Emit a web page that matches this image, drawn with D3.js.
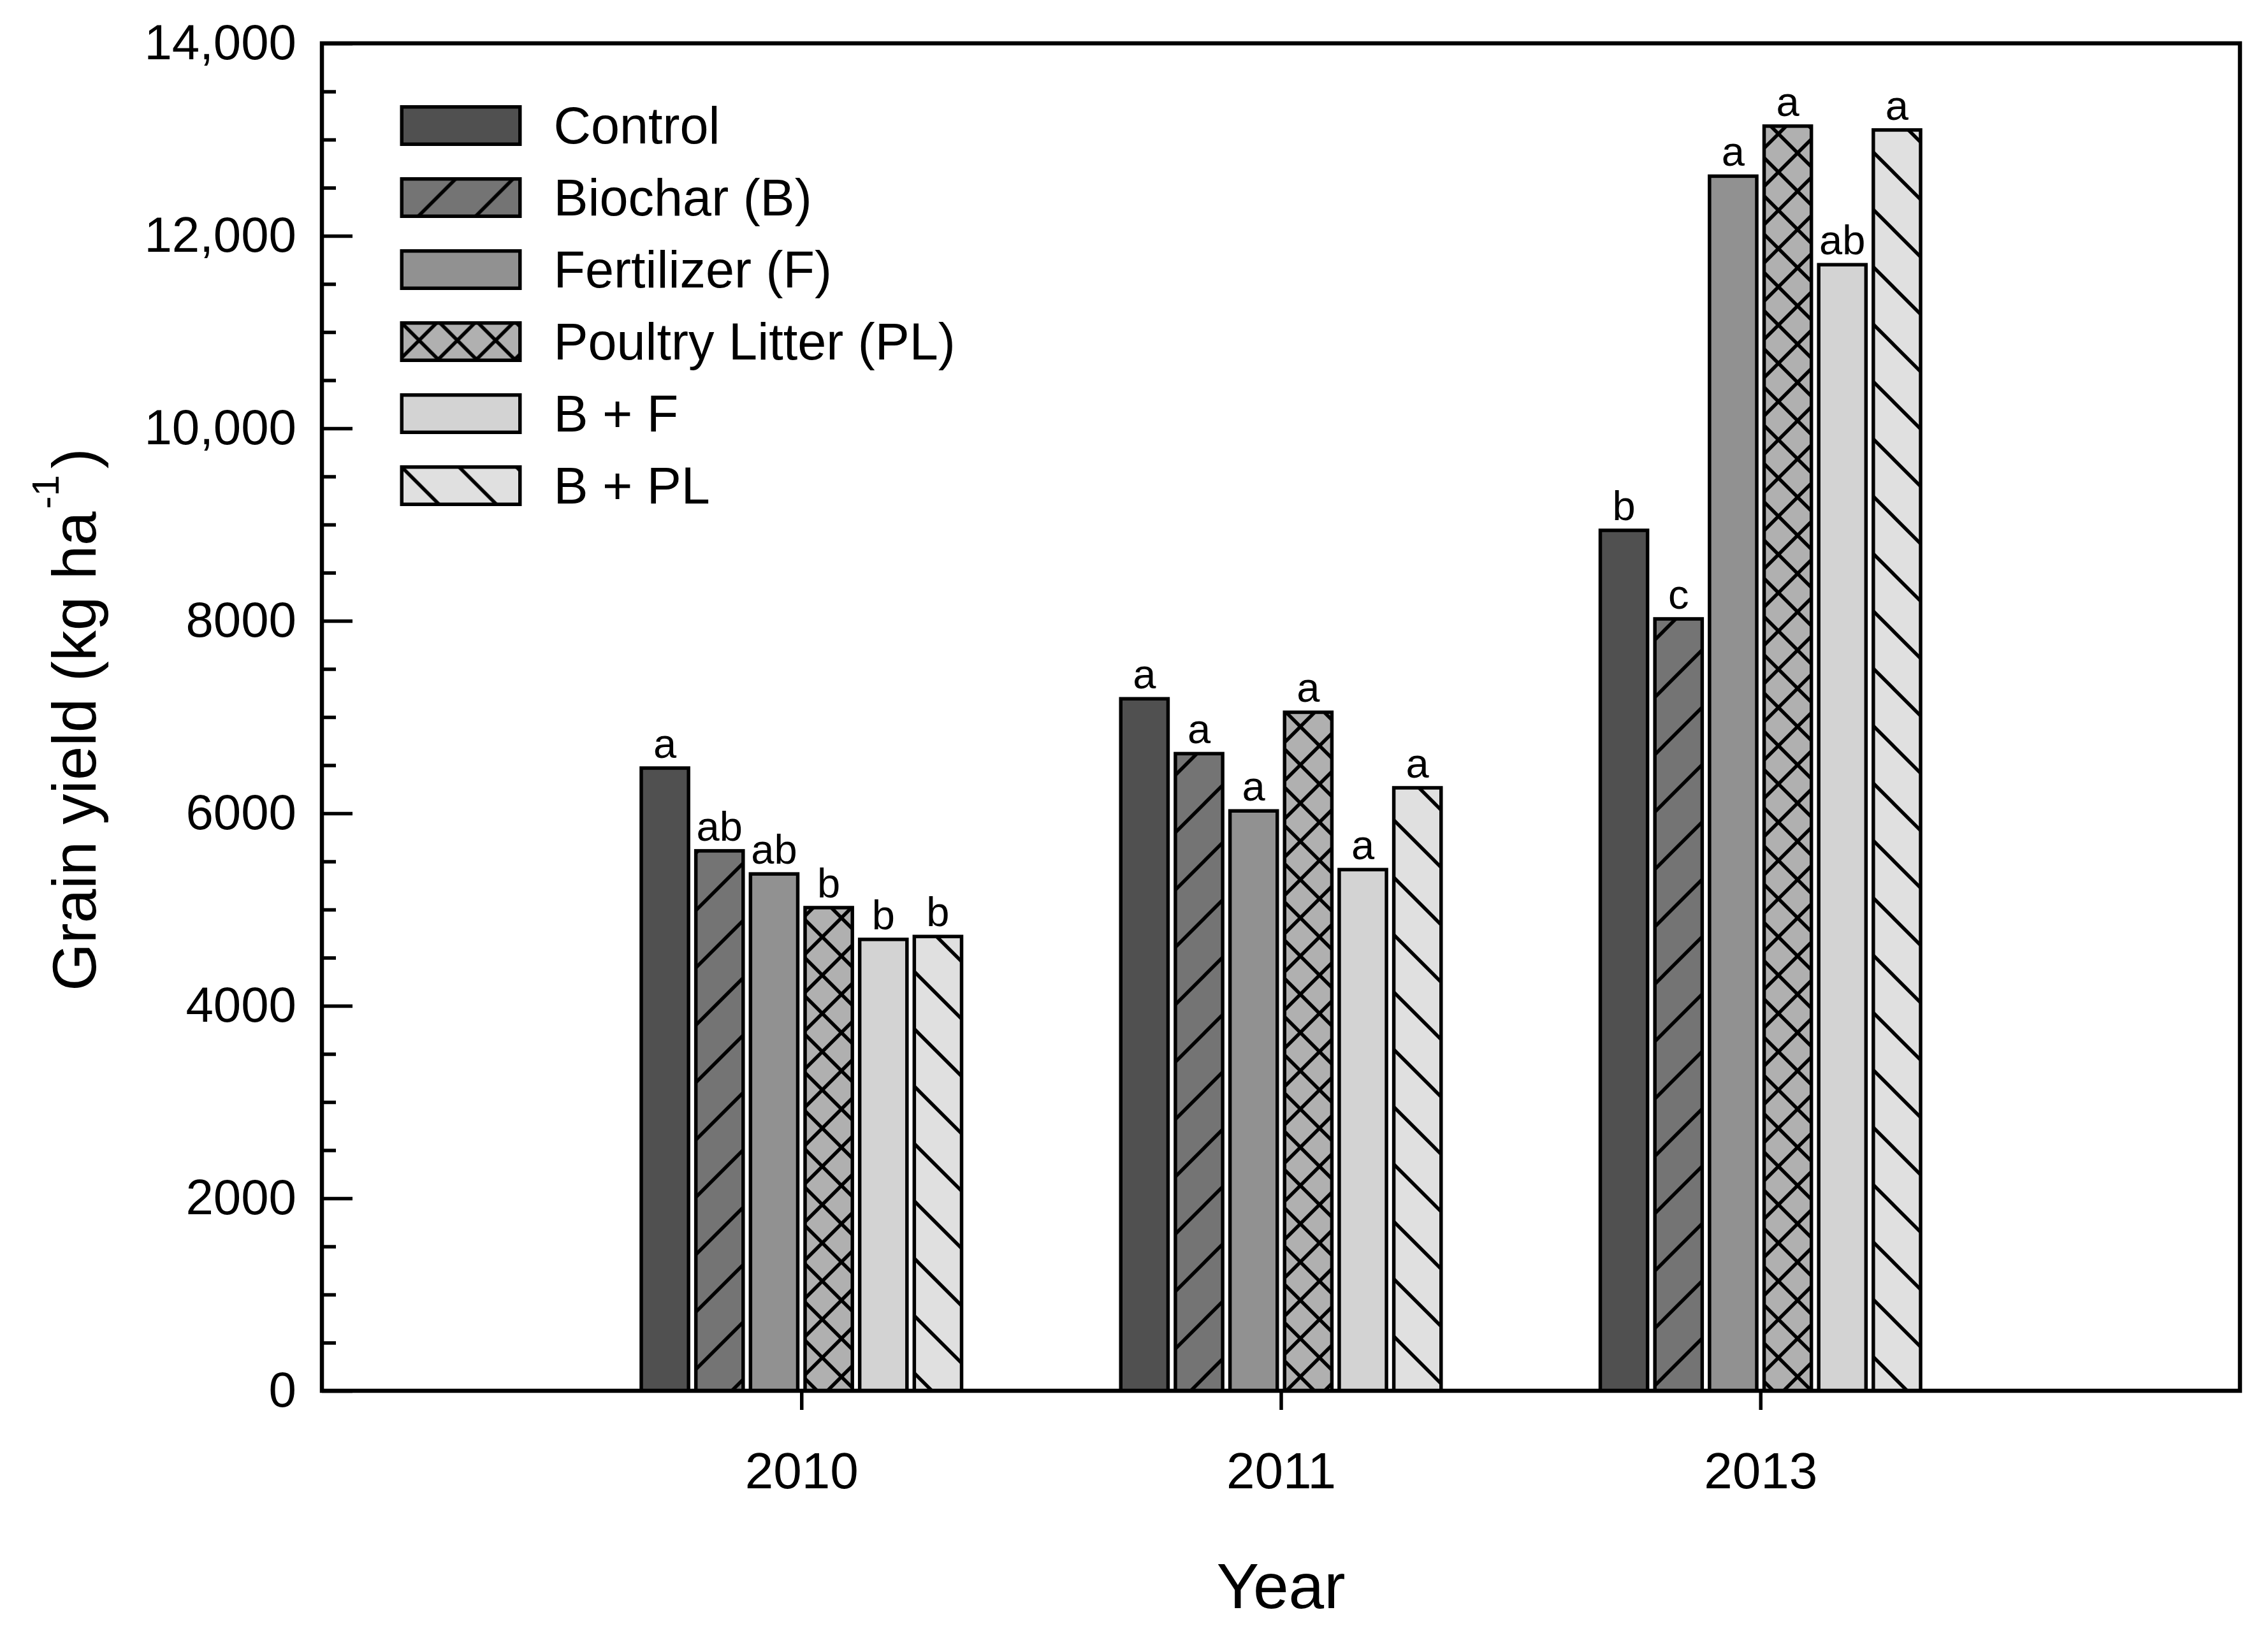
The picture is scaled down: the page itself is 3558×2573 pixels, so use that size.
<!DOCTYPE html>
<html>
<head>
<meta charset="utf-8">
<script src="https://cdn.jsdelivr.net/npm/d3@7"></script>
<style>
  body { margin: 0; background: #fff; }
  text { font-family: "Liberation Sans", Arial, sans-serif; fill: #000; }
</style>
</head>
<body>
<div id="chart"></div>
<script>
// values (kg/ha)
const years = ["2010", "2011", "2013"];
const treatments = ["Control", "Biochar (B)", "Fertilizer (F)", "Poultry Litter (PL)", "B + F", "B + PL"];
const yield2010 = [6470, 5610, 5370, 5020, 4690, 4720];
const yield2011 = [7190, 6620, 6025, 7050, 5415, 6265];
const yield2013 = [8940, 8020, 12620, 13140, 11700, 13100];
const letters2010 = ["a", "ab", "ab", "b", "b", "b"];
const letters2011 = ["a", "a", "a", "a", "a", "a"];
const letters2013 = ["b", "c", "a", "a", "ab", "a"];
const yTicks = [0, 2000, 4000, 6000, 8000, 10000, 12000, 14000];

const fills = ["#505050", "#747474", "#919191", "#b0b0b0", "#d3d3d3", "#e0e0e0"];
const hatch = ["none", "fwd", "none", "cross", "none", "back"];

const yields = [yield2010, yield2011, yield2013];
const letters = [letters2010, letters2011, letters2013];

const data = [];
years.forEach((yr, i) => {
    treatments.forEach((t, j) => {
        data.push({year: yr, treatment: t, value: yields[i][j], letter: letters[i][j], k: j});
    });
});

const W = 3558, H = 2573;
const plotL = 505, plotR = 3514, plotT = 68, plotB = 2182;
const sw = 5.5; // outline width

const svg = d3.select("#chart").append("svg")
    .attr("width", W)
    .attr("height", H)
    .attr("viewBox", [0, 0, W, H]);

// hatch patterns, one per treatment (background colour + black lines)
const defs = svg.append("defs");
treatments.forEach((t, j) => {
    const kind = hatch[j];
    const size = kind == "cross" ? 60 : 90;
    const p = defs.append("pattern")
        .attr("id", "pat" + j)
        .attr("patternUnits", "userSpaceOnUse")
        .attr("width", size)
        .attr("height", size);
    p.append("rect").attr("width", size).attr("height", size).attr("fill", fills[j]);
    const s = size, e = 10;
    let d = "";
    if (kind == "fwd" || kind == "cross") {
        d += `M0,${s}L${s},0M${-e},${e}L${e},${-e}M${s - e},${s + e}L${s + e},${s - e}`;
    }
    if (kind == "back" || kind == "cross") {
        d += `M0,0L${s},${s}M${-e},${s - e}L${e},${s + e}M${s - e},${-e}L${s + e},${e}`;
    }
    if (d) {
        p.append("path").attr("d", d).attr("stroke", "#000").attr("stroke-width", 5.5).attr("fill", "none");
    }
});

const y = d3.scaleLinear().domain([0, 14000]).range([plotB, plotT]);
const x0 = d3.scalePoint().domain(years).range([plotL, plotR]).padding(1);
const x1 = d3.scaleBand().domain(treatments).range([-254, 254]).paddingInner(0.07);

// bars
svg.append("g")
  .selectAll("rect")
  .data(data)
  .join("rect")
    .attr("x", d => x0(d.year) + x1(d.treatment) + sw / 2)
    .attr("y", d => y(d.value))
    .attr("width", x1.bandwidth() - sw)
    .attr("height", d => y(0) - y(d.value))
    .attr("fill", d => `url(#pat${d.k})`)
    .attr("stroke", "#000")
    .attr("stroke-width", sw);

// significance letters
svg.append("g")
  .selectAll("text")
  .data(data)
  .join("text")
    .attr("x", d => x0(d.year) + x1(d.treatment) + x1.bandwidth() / 2)
    .attr("y", d => y(d.value) - 16)
    .attr("text-anchor", "middle")
    .attr("font-size", 65)
    .text(d => d.letter);

// y axis: major + minor ticks pointing inwards
const fmt = v => v >= 10000 ? d3.format(",")(v) : String(v);
const yAxis = svg.append("g")
    .attr("transform", `translate(${plotL},0)`)
    .call(d3.axisLeft(y).tickValues(yTicks).tickSizeInner(-48).tickSizeOuter(0).tickPadding(40).tickFormat(fmt));
yAxis.select(".domain").remove();
yAxis.selectAll("line").attr("stroke", "#000").attr("stroke-width", 5.5);
yAxis.selectAll("text").attr("font-size", 78).attr("font-family", "Liberation Sans, Arial, sans-serif");

const minor = d3.range(0, 14001, 500).filter(v => v % 2000 != 0);
const yMinor = svg.append("g")
    .attr("transform", `translate(${plotL},0)`)
    .call(d3.axisLeft(y).tickValues(minor).tickSizeInner(-22).tickSizeOuter(0).tickFormat(""));
yMinor.select(".domain").remove();
yMinor.selectAll("line").attr("stroke", "#000").attr("stroke-width", 5.5);

// x axis: ticks pointing outwards
const xAxis = svg.append("g")
    .attr("transform", `translate(0,${plotB})`)
    .call(d3.axisBottom(x0).tickSizeInner(30).tickSizeOuter(0).tickPadding(66));
xAxis.select(".domain").remove();
xAxis.selectAll("line").attr("stroke", "#000").attr("stroke-width", 5.5);
xAxis.selectAll("text").attr("font-size", 80).attr("font-family", "Liberation Sans, Arial, sans-serif");

// frame
svg.append("rect")
    .attr("x", plotL).attr("y", plotT)
    .attr("width", plotR - plotL).attr("height", plotB - plotT)
    .attr("fill", "none")
    .attr("stroke", "#000")
    .attr("stroke-width", 6.5);

// legend
const legend = svg.append("g");
const row = legend.selectAll("g")
  .data(treatments)
  .join("g")
    .attr("transform", (d, i) => `translate(627.5,${165 + i * 113})`);
row.append("rect")
    .attr("x", sw / 2).attr("y", sw / 2)
    .attr("width", 191 - sw).attr("height", 64 - sw)
    .attr("fill", (d, i) => `url(#pat${i})`)
    .attr("stroke", "#000")
    .attr("stroke-width", sw);
row.append("text")
    .attr("x", 241)
    .attr("y", 32)
    .attr("dy", "0.35em")
    .attr("font-size", 81)
    .text(d => d);

// axis titles
svg.append("text")
    .attr("x", (plotL + plotR) / 2)
    .attr("y", 2523)
    .attr("text-anchor", "middle")
    .attr("font-size", 100)
    .text("Year");

const yt = svg.append("text")
    .attr("transform", `translate(150,1129) rotate(-90)`)
    .attr("text-anchor", "middle")
    .attr("font-size", 96);
yt.append("tspan").text("Grain yield (kg ha");
yt.append("tspan").attr("font-size", 60).attr("dx", 4).attr("dy", -58).text("-1");
yt.append("tspan").attr("dx", 10).attr("dy", 58).text(")");
</script>
</body>
</html>
